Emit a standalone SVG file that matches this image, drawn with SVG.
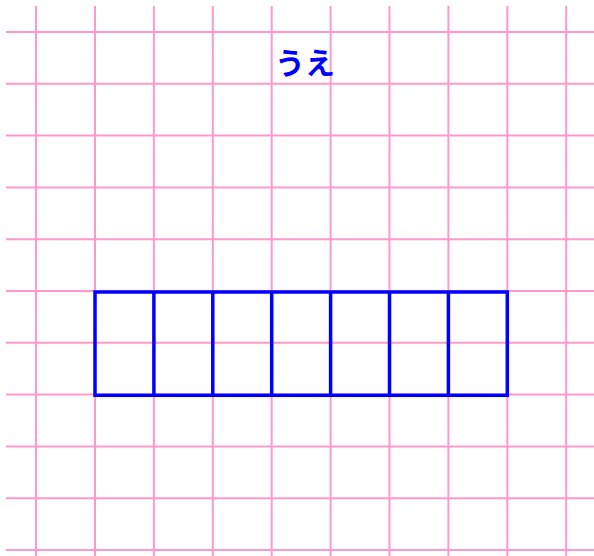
<svg xmlns="http://www.w3.org/2000/svg" width="594" height="556" viewBox="0 0 594 556">
<style>
.g{stroke:#ff99cc;stroke-width:2;fill:none}
.b{stroke:#0000ff;stroke-width:3.5;fill:none}
.t{font-family:"Noto Sans CJK JP","Noto Sans",sans-serif;font-weight:bold;font-size:30px;fill:#0000ff}
</style>
<rect width="594" height="556" fill="#ffffff"/>
<g id="grid" class="g">
<path d="M36 6V556M95 6V556M153.9 6V556M212.8 6V556M271.7 6V556M330.6 6V556M389.5 6V556M448.4 6V556M507.3 6V556M566.2 6V556"/>
<path d="M6 32H594M6 83.8H594M6 135.6H594M6 187.4H594M6 239.2H594M6 291H594M6 342.8H594M6 394.6H594M6 446.4H594M6 498.2H594M6 550H594"/>
</g>
<g id="boxes" class="b">
<rect x="95" y="292" width="412.3" height="103.3"/>
<path d="M153.9 292V395.3M212.8 292V395.3M271.7 292V395.3M330.6 292V395.3M389.5 292V395.3M448.4 292V395.3"/>
</g>
<g id="label">
<text class="t" x="305" y="74" text-anchor="middle">うえ</text>
</g>
</svg>
